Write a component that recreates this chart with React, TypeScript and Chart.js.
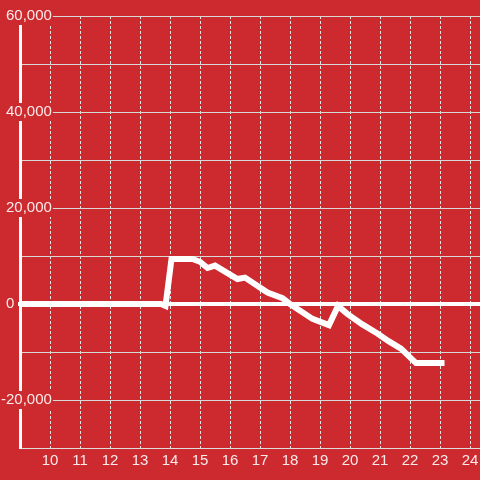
import React, { useEffect, useRef } from "react";
import { Chart, registerables } from "chart.js";

Chart.register(...registerables);

// ---- data ----
const MINUTES = [9, 13.7, 13.85, 14.05, 14.75, 15.0, 15.25, 15.5, 16.25, 16.5, 17.25, 17.75, 18.0, 18.75, 19.3, 19.6, 19.9, 20.4, 20.9, 21.3, 21.7, 22.2, 23.15];
const GOLD_DIFF = [0, 0, -400, 9400, 9400, 8800, 7500, 8000, 5200, 5500, 2400, 1200, 0, -3100, -4400, -400, -2000, -4200, -6100, -7800, -9300, -12300, -12300];
const X_TICKS = [10, 11, 12, 13, 14, 15, 16, 17, 18, 19, 20, 21, 22, 23, 24];
const X_MIN = 9;
const X_MAX = 24.3333;
const Y_MIN = -30000;
const Y_MAX = 60000;
const Y_STEP = 10000;
const Y_LABEL_STEP = 20000;

const BG = "#cc2a2f";
const TEXT = "rgba(255,255,255,0.9)";
const FONT = { family: "'Liberation Sans', Arial, sans-serif", size: 15 };

export default function App() {
  const ref = useRef<HTMLCanvasElement | null>(null);

  useEffect(() => {
    const canvas = ref.current;
    if (!canvas) return;
    const chart = new Chart(canvas, {
      type: "line",
      data: {
        datasets: [
          {
            data: MINUTES.map((m, i) => ({ x: m, y: GOLD_DIFF[i] })),
            borderColor: "#ffffff",
            borderWidth: 6,
            borderCapStyle: "butt",
            borderJoinStyle: "miter",
            pointRadius: 0,
            tension: 0,
            fill: false,
          },
        ],
      },
      options: {
        animation: false,
        responsive: false,
        devicePixelRatio: 1,
        layout: { padding: { top: 16, left: 0, right: 0, bottom: 0 } },
        plugins: { legend: { display: false }, tooltip: { enabled: false } },
        scales: {
          x: {
            type: "linear",
            min: X_MIN,
            max: X_MAX,
            afterBuildTicks: (scale: any) => {
              scale.ticks = X_TICKS.map((v) => ({ value: v }));
            },
            afterFit: (scale: any) => {
              scale.height = 32;
              scale.paddingLeft = 0;
              scale.paddingRight = 0;
            },
            grid: {
              color: "#e4e4e4",
              lineWidth: 1,
              drawTicks: false,
            },
            border: { display: true, color: "#dcdcdc", width: 1, dash: [3, 2] },
            ticks: {
              color: TEXT,
              font: FONT,
              padding: 4,
              maxRotation: 0,
              autoSkip: false,
              callback: (v: any) => String(v),
            },
          },
          y: {
            type: "linear",
            min: Y_MIN,
            max: Y_MAX,
            afterFit: (scale: any) => {
              scale.width = 20;
              scale.paddingTop = 0;
              scale.paddingBottom = 0;
            },
            grid: {
              color: (ctx: any) => (ctx.tick && ctx.tick.value === 0 ? "#ffffff" : "#d8d8d8"),
              lineWidth: (ctx: any) => (ctx.tick && ctx.tick.value === 0 ? 4 : 1),
              tickColor: (ctx: any) => (ctx.tick && ctx.tick.value === 0 ? "#ffffff" : "rgba(0,0,0,0)"),
              tickWidth: (ctx: any) => (ctx.tick && ctx.tick.value === 0 ? 4 : 1),
              tickLength: 2,
              drawTicks: true,
            },
            border: { display: true, color: "#ffffff", width: 3 },
            ticks: {
              stepSize: Y_STEP,
              autoSkip: false,
              mirror: true,
              crossAlign: "far",
              color: TEXT,
              font: FONT,
              padding: -19,
              showLabelBackdrop: true,
              backdropPadding: { x: 1, y: 0 },
              backdropColor: (ctx: any) => {
                const v = ctx.tick ? ctx.tick.value : null;
                if (v === 0 || v === null || v % Y_LABEL_STEP !== 0) return "rgba(0,0,0,0)";
                return BG;
              },
              callback: (v: any) => {
                const n = Number(v);
                if (n % Y_LABEL_STEP !== 0) return "";
                if (n === 0) return "0" + " ".repeat(9);
                return n.toLocaleString("en-US");
              },
            },
          },
        },
      },
    });
    return () => chart.destroy();
  }, []);

  return (
    <div style={{ position: "fixed", left: 0, top: 0, width: 480, height: 480, background: BG }}>
      <canvas ref={ref} width={480} height={480} style={{ display: "block", width: 480, height: 480 }} />
    </div>
  );
}
